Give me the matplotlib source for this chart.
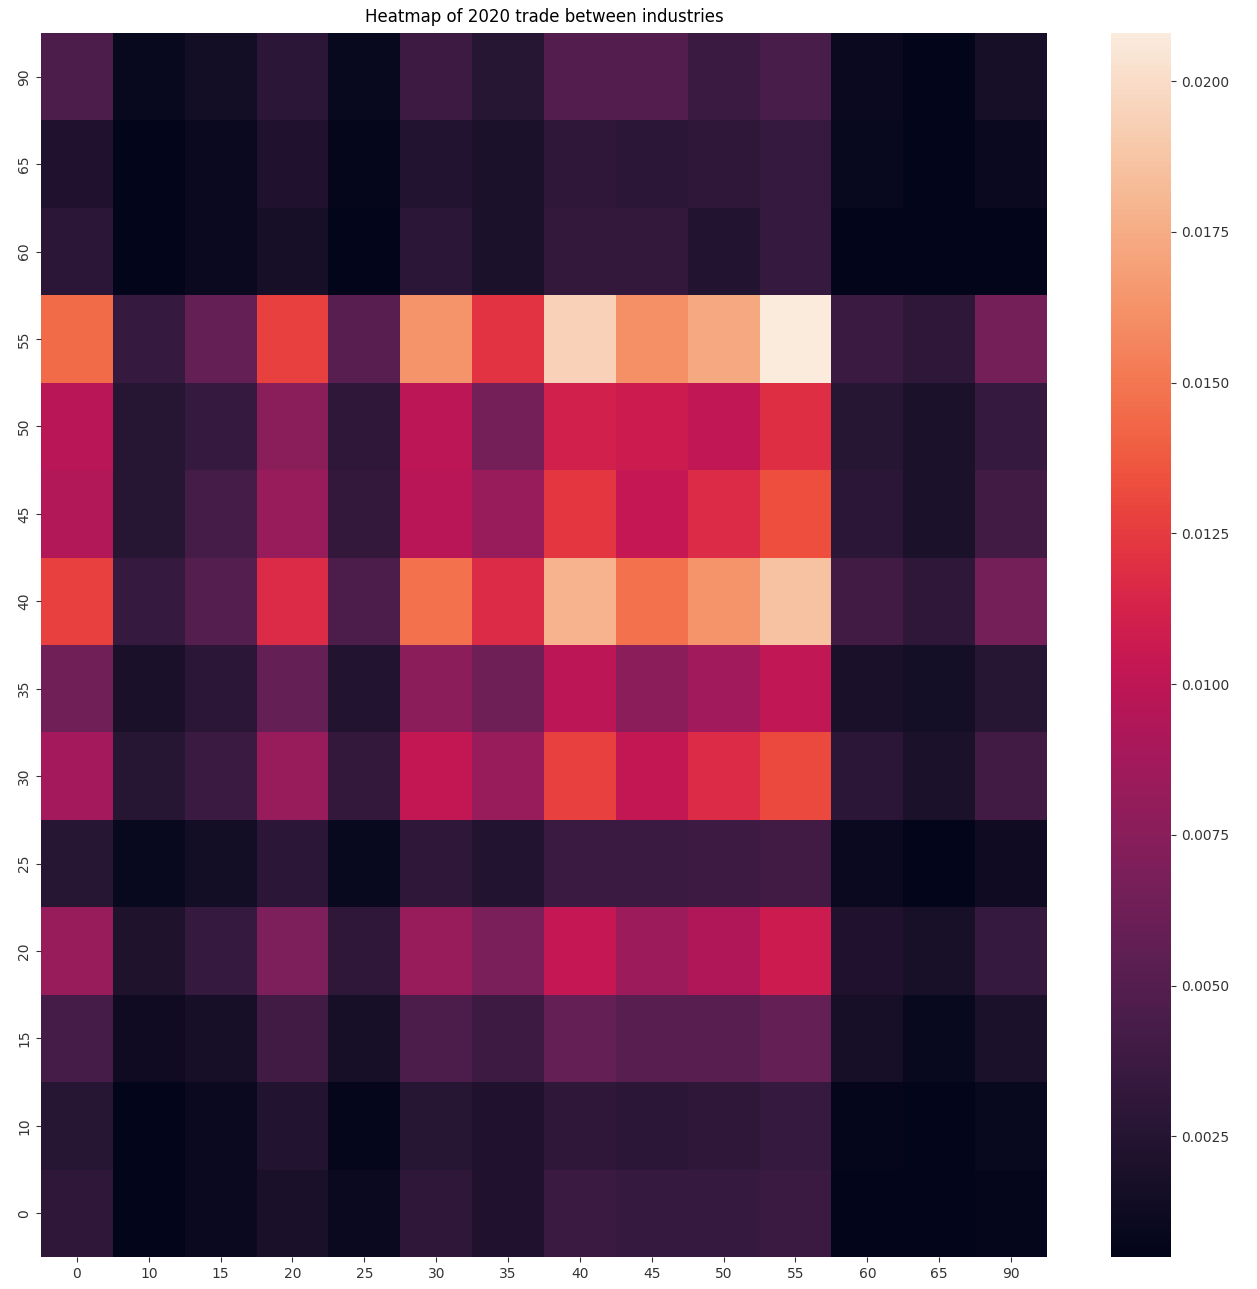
import numpy as np
import pandas as pd
import matplotlib
matplotlib.use("Agg")
import matplotlib.pyplot as plt
import seaborn as sns


industries = [0, 10, 15, 20, 25, 30, 35, 40, 45, 50, 55, 60, 65, 90]

# trade shares, one row per industry (0 up to 90)
row_0 = [0.0030, 0.0005, 0.0011, 0.0019, 0.0011, 0.0030, 0.0022, 0.0036, 0.0034, 0.0034, 0.0036, 0.0005, 0.0005, 0.0007]
row_10 = [0.0026, 0.0005, 0.0011, 0.0024, 0.0007, 0.0026, 0.0022, 0.0030, 0.0028, 0.0030, 0.0034, 0.0007, 0.0005, 0.0009]
row_15 = [0.0042, 0.0013, 0.0017, 0.0040, 0.0017, 0.0046, 0.0038, 0.0058, 0.0052, 0.0052, 0.0058, 0.0017, 0.0009, 0.0020]
row_20 = [0.0082, 0.0021, 0.0034, 0.0070, 0.0030, 0.0082, 0.0068, 0.0103, 0.0084, 0.0093, 0.0107, 0.0022, 0.0018, 0.0034]
row_25 = [0.0026, 0.0009, 0.0015, 0.0028, 0.0009, 0.0030, 0.0024, 0.0036, 0.0036, 0.0038, 0.0040, 0.0011, 0.0005, 0.0013]
row_30 = [0.0088, 0.0026, 0.0036, 0.0082, 0.0032, 0.0102, 0.0082, 0.0127, 0.0102, 0.0117, 0.0131, 0.0028, 0.0020, 0.0040]
row_35 = [0.0064, 0.0019, 0.0028, 0.0058, 0.0024, 0.0076, 0.0062, 0.0099, 0.0076, 0.0086, 0.0101, 0.0019, 0.0016, 0.0026]
row_40 = [0.0127, 0.0034, 0.0050, 0.0117, 0.0046, 0.0147, 0.0117, 0.0178, 0.0147, 0.0163, 0.0186, 0.0040, 0.0030, 0.0066]
row_45 = [0.0094, 0.0026, 0.0042, 0.0082, 0.0032, 0.0097, 0.0082, 0.0123, 0.0103, 0.0117, 0.0133, 0.0028, 0.0020, 0.0040]
row_50 = [0.0097, 0.0026, 0.0034, 0.0075, 0.0030, 0.0099, 0.0066, 0.0111, 0.0107, 0.0101, 0.0119, 0.0026, 0.0020, 0.0034]
row_55 = [0.0145, 0.0034, 0.0058, 0.0127, 0.0052, 0.0163, 0.0121, 0.0194, 0.0161, 0.0173, 0.0208, 0.0036, 0.0030, 0.0066]
row_60 = [0.0028, 0.0005, 0.0011, 0.0017, 0.0005, 0.0028, 0.0020, 0.0032, 0.0032, 0.0024, 0.0034, 0.0005, 0.0005, 0.0005]
row_65 = [0.0022, 0.0005, 0.0011, 0.0022, 0.0007, 0.0024, 0.0020, 0.0030, 0.0028, 0.0030, 0.0034, 0.0009, 0.0005, 0.0011]
row_90 = [0.0046, 0.0009, 0.0015, 0.0028, 0.0009, 0.0038, 0.0026, 0.0049, 0.0049, 0.0036, 0.0044, 0.0011, 0.0005, 0.0017]

rows = [row_0, row_10, row_15, row_20, row_25, row_30, row_35,
        row_40, row_45, row_50, row_55, row_60, row_65, row_90]

trade = pd.DataFrame(np.array(rows), index=industries, columns=industries)

W, H = 1257, 1289
fig = plt.figure(figsize=(W / 100, H / 100), dpi=100)

ax = fig.add_axes([41 / W, 1 - 1257 / H, (1047 - 41) / W, (1257 - 33) / H])
cax = fig.add_axes([1111 / W, 1 - 1257 / H, 60 / W, (1257 - 33) / H])

sns.heatmap(trade, ax=ax, cbar_ax=cax)
ax.invert_yaxis()

ax.set_title("Heatmap of 2020 trade between industries", pad=8)
ax.set_xlabel("")
ax.set_ylabel("")
ax.tick_params(axis="x", labelrotation=0, colors="#333333")
ax.tick_params(axis="y", labelrotation=90, colors="#333333")
cax.tick_params(colors="#333333")

cax.yaxis.set_major_formatter(matplotlib.ticker.FormatStrFormatter("%.4f"))

fig.savefig("out.png", dpi=100)
